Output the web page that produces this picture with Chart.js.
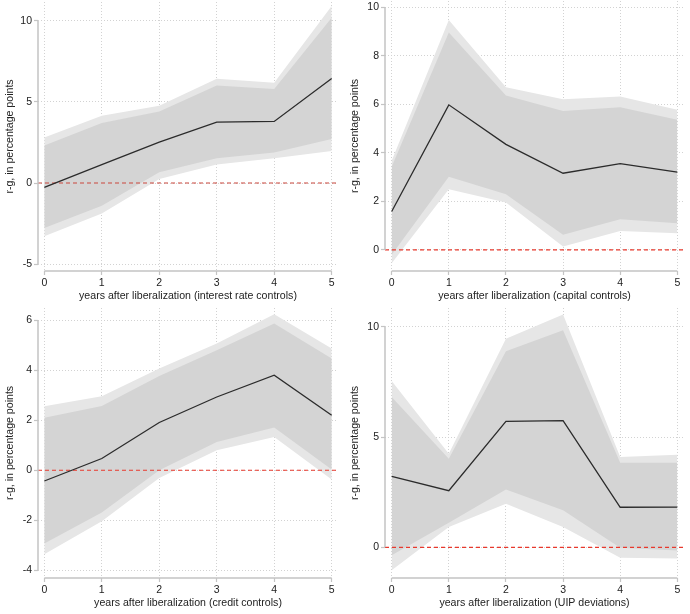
<!DOCTYPE html>
<html>
<head>
<meta charset="utf-8">
<script src="https://cdn.jsdelivr.net/npm/chart.js"></script>
<style>
  html,body{margin:0;padding:0;background:#fff;}
  #wrap{position:relative;width:690px;height:614px;}
  #wrap canvas{position:absolute;}
</style>
</head>
<body>
<div id="wrap">
  <canvas id="c1" width="345" height="307" style="left:0;top:0"></canvas>
  <canvas id="c2" width="345" height="307" style="left:345px;top:0"></canvas>
  <canvas id="c3" width="345" height="307" style="left:0;top:307px"></canvas>
  <canvas id="c4" width="345" height="307" style="left:345px;top:307px"></canvas>
</div>
<script>
/* =================== Data =================== */
const years = [0, 1, 2, 3, 4, 5];

// interest rate controls
const irEst     = [-0.27, 1.14, 2.52, 3.76, 3.80, 6.45];
const irInnerHi = [2.31, 3.70, 4.42, 6.01, 5.80, 10.20];
const irInnerLo = [-2.77, -1.40, 0.66, 1.53, 1.88, 2.71];
const irOuterHi = [2.81, 4.15, 4.77, 6.43, 6.18, 10.93];
const irOuterLo = [-3.29, -1.88, 0.25, 1.14, 1.53, 1.98];
const irTicks   = [-5, 0, 5, 10];

// capital controls
const capEst     = [1.58, 5.98, 4.35, 3.16, 3.56, 3.21];
const capInnerHi = [3.43, 8.96, 6.36, 5.73, 5.88, 5.37];
const capInnerLo = [-0.20, 3.02, 2.29, 0.62, 1.26, 1.10];
const capOuterHi = [3.67, 9.48, 6.70, 6.21, 6.32, 5.78];
const capOuterLo = [-0.55, 2.50, 1.95, 0.14, 0.78, 0.69];
const capTicks   = [0, 2, 4, 6, 8, 10];

// credit controls
const crEst     = [-0.43, 0.47, 1.91, 2.93, 3.80, 2.20];
const crInnerHi = [2.10, 2.57, 3.77, 4.80, 5.87, 4.47];
const crInnerLo = [-2.93, -1.69, 0.00, 1.13, 1.71, 0.03];
const crOuterHi = [2.56, 2.96, 4.07, 5.07, 6.24, 4.87];
const crOuterLo = [-3.36, -2.04, -0.31, 0.80, 1.33, -0.37];
const crTicks   = [-4, -2, 0, 2, 4, 6];

// UIP deviations
const uipEst     = [3.22, 2.57, 5.72, 5.75, 1.82, 1.83];
const uipInnerHi = [6.82, 4.02, 8.90, 9.85, 3.84, 3.84];
const uipInnerLo = [-0.36, 1.12, 2.62, 1.68, -0.02, -0.14];
const uipOuterHi = [7.55, 4.25, 9.47, 10.57, 4.10, 4.20];
const uipOuterLo = [-1.04, 0.92, 1.98, 0.92, -0.47, -0.51];
const uipTicks   = [0, 5, 10];

const yTitle = "r-g, in percentage points";

/* =================== Style =================== */
const FONT = "'Liberation Sans', Arial, Helvetica, sans-serif";
const OUTER = "#e6e6e6";
const INNER = "#d4d4d4";
const AXIS = "#c4c4c4";
const GRID = "#d2d2d2";

const pts = (arr) => years.map((x, i) => ({x, y: arr[i]}));

/* =================== Plugins =================== */
// axis lines only across the tick range, like the Stata look
const axisLines = {
  id: "axisLines",
  afterDraw(chart){
    const {ctx, chartArea, scales:{x, y}} = chart;
    const yt = y.ticks.map(t => t.value);
    const xt = x.ticks.map(t => t.value);
    ctx.save();
    ctx.strokeStyle = AXIS;
    ctx.lineWidth = 1.5;
    ctx.beginPath();
    ctx.moveTo(chartArea.left, y.getPixelForValue(Math.max(...yt)));
    ctx.lineTo(chartArea.left, y.getPixelForValue(Math.min(...yt)));
    ctx.moveTo(x.getPixelForValue(Math.min(...xt)), chartArea.bottom);
    ctx.lineTo(x.getPixelForValue(Math.max(...xt)), chartArea.bottom);
    ctx.stroke();
    ctx.restore();
  }
};

// dashed zero reference, above the bands and below the estimate
const zeroLine = {
  id: "zeroLine",
  beforeDatasetDraw(chart, args, opts){
    if(args.index !== 0) return;
    const {ctx, chartArea, scales:{y}} = chart;
    const py = y.getPixelForValue(0);
    ctx.save();
    ctx.strokeStyle = opts.color || "#e8392d";
    ctx.lineWidth = 1.2;
    ctx.setLineDash([4, 3]);
    ctx.beginPath();
    ctx.moveTo(chartArea.left, py);
    ctx.lineTo(chartArea.right, py);
    ctx.stroke();
    ctx.restore();
  }
};

// no extra room for half tick labels: the plot box is fixed by layout padding
const semPadding = s => { s.paddingTop = 0; s.paddingBottom = 0; s.paddingLeft = 0; s.paddingRight = 0; };

/* =================== Panels =================== */
function painel(id, p){
  const pad = 0.11;
  const grid = { color: GRID, lineWidth: 1, tickLength: 4, tickColor: AXIS, tickWidth: 1.2, tickBorderDash: [] };
  return new Chart(document.getElementById(id), {
    type: "line",
    data: {
      datasets: [
        { data: pts(p.est), borderColor: "#2b2b2b", borderWidth: 1.3, pointRadius: 0, fill: false, tension: 0 },
        { data: pts(p.innerHi), borderWidth: 0, pointRadius: 0, backgroundColor: INNER, fill: "+1" },
        { data: pts(p.innerLo), borderWidth: 0, pointRadius: 0, fill: false },
        { data: pts(p.outerHi), borderWidth: 0, pointRadius: 0, backgroundColor: OUTER, fill: "+1" },
        { data: pts(p.outerLo), borderWidth: 0, pointRadius: 0, fill: false }
      ]
    },
    options: {
      responsive: false,
      animation: false,
      layout: { padding: { left: 0, top: p.top, right: 345 - p.right, bottom: 0 } },
      plugins: {
        legend: { display: false },
        tooltip: { enabled: false },
        zeroLine: { color: p.zeroColor }
      },
      scales: {
        x: {
          type: "linear",
          min: -pad - (p.extra || 0), max: 5 + pad + (p.extra || 0),
          afterBuildTicks: s => { s.ticks = years.map(v => ({value: v})); },
          afterFit: s => { s.height = 307 - p.bottom; semPadding(s); },
          border: { display: false, dash: [1, 2] },
          grid,
          ticks: { color: "#222", font: { family: FONT, size: 10.5 }, padding: 2, maxRotation: 0 },
          title: { display: true, text: p.xTitle, color: "#222", font: { family: FONT, size: 10.6 }, padding: { top: 2, bottom: 5 } }
        },
        y: {
          min: p.yMin, max: p.yMax,
          afterBuildTicks: s => { s.ticks = p.ticks.map(v => ({value: v})); },
          afterFit: s => { s.width = p.left; semPadding(s); },
          border: { display: false, dash: [1, 2] },
          grid,
          ticks: { color: "#222", font: { family: FONT, size: 10.5 }, padding: 2 },
          title: { display: true, text: yTitle, color: "#222", font: { family: FONT, size: 10.6 }, padding: { top: 4, bottom: 0 } }
        }
      }
    },
    plugins: [zeroLine, axisLines]
  });
}

painel("c1", {
  est: irEst, innerHi: irInnerHi, innerLo: irInnerLo, outerHi: irOuterHi, outerLo: irOuterLo,
  ticks: irTicks, yMin: -5.43, yMax: 11.17,
  left: 38, right: 338, top: 2, bottom: 271, zeroColor: "#c9463d",
  xTitle: "years after liberalization (interest rate controls)"
});
painel("c2", {
  est: capEst, innerHi: capInnerHi, innerLo: capInnerLo, outerHi: capOuterHi, outerLo: capOuterLo,
  ticks: capTicks, yMin: -0.87, yMax: 10.26, extra: 0.007,
  left: 40, right: 339, top: 1, bottom: 271,
  xTitle: "years after liberalization (capital controls)"
});
painel("c3", {
  est: crEst, innerHi: crInnerHi, innerLo: crInnerLo, outerHi: crOuterHi, outerLo: crOuterLo,
  ticks: crTicks, yMin: -4.31, yMax: 6.49,
  left: 38, right: 338, top: 1, bottom: 271,
  xTitle: "years after liberalization (credit controls)"
});
painel("c4", {
  est: uipEst, innerHi: uipInnerHi, innerLo: uipInnerLo, outerHi: uipOuterHi, outerLo: uipOuterLo,
  ticks: uipTicks, yMin: -1.39, yMax: 10.86, extra: 0.007,
  left: 40, right: 339, top: 1, bottom: 271,
  xTitle: "years after liberalization (UIP deviations)"
});
</script>
</body>
</html>
